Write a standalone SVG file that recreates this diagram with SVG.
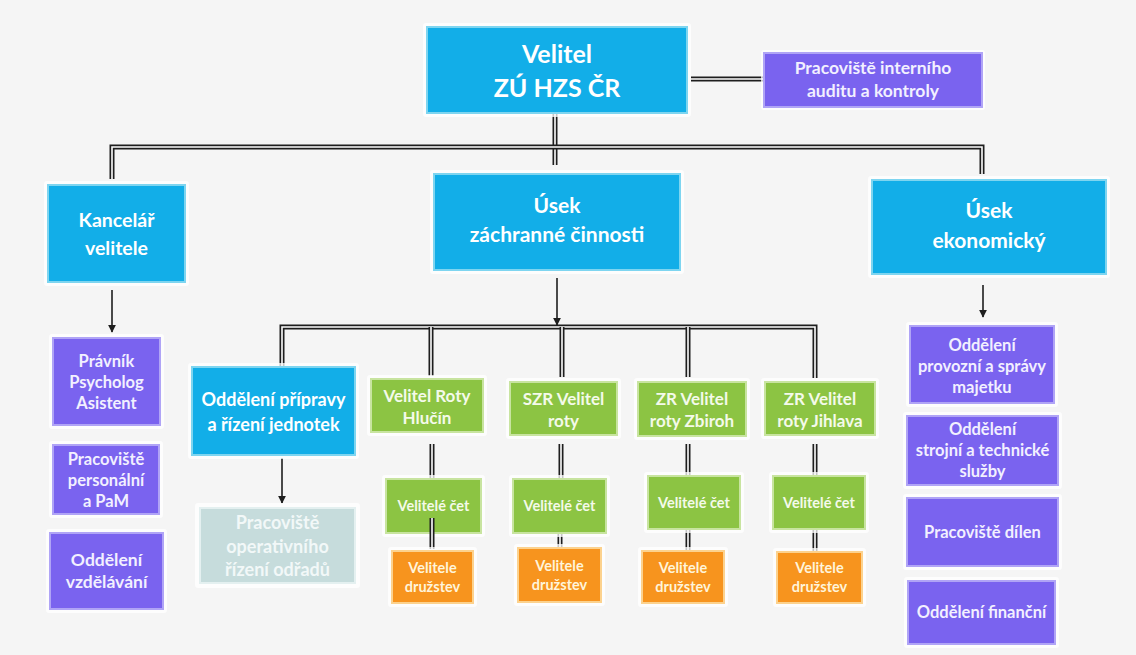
<svg xmlns="http://www.w3.org/2000/svg" width="1136" height="655" viewBox="0 0 1136 655">
<defs>
<style>
.bg{fill:#f5f5f5}
.halo{fill:#ffffff;opacity:0.75}
.blue{fill:#12aee8;stroke:#7ed5f0;stroke-width:2}
.purple{fill:#7a63ef;stroke:#b0a4f6;stroke-width:2}
.green{fill:#8cc443;stroke:#c8e4a0;stroke-width:2}
.orange{fill:#f7941e;stroke:#fcd28e;stroke-width:2}
.gray{fill:#c6dcdc;stroke:#e4f0f0;stroke-width:2}
text{font-family:Lato,"Open Sans","Liberation Sans",sans-serif;font-weight:700;text-anchor:middle}
.tw{fill:#ffffff}
.tp{fill:#f2f0ff;font-size:16.5px}
.tg{fill:#f4faea}
.to{fill:#fff4da;font-size:14.5px}
.tgr{fill:#f2f8f8;font-size:18px}
.dbo{fill:none;stroke:#1e1e1e;stroke-width:5;stroke-linejoin:miter}
.dbi{fill:none;stroke:#ffffff;stroke-width:1.6;stroke-linejoin:miter}
.arr{fill:none;stroke:#1e1e1e;stroke-width:1.6}
</style>
<marker id="ah" viewBox="0 0 10 10" refX="9" refY="5" markerWidth="5" markerHeight="5" orient="auto">
<path d="M0,0 L10,5 L0,10 z" fill="#1e1e1e"/>
</marker>
</defs>
<rect class="bg" x="0" y="0" width="1136" height="655"/>

<g id="connectors">
<path class="dbo" d="M691,79 H764"/>
<path class="dbi" d="M691,79 H764"/>
<path class="dbo" d="M555,114 V165"/>
<path class="dbi" d="M555,114 V165"/>
<path class="dbo" d="M112,179 V147 H982 V174"/>
<path class="dbi" d="M112,179 V147 H982 V174"/>
<path class="dbo" d="M282,367 V327 H815 V378"/>
<path class="dbi" d="M282,367 V327 H815 V378"/>
<path class="dbo" d="M431,327 V376 M562,327 V377 M688,327 V377"/>
<path class="dbi" d="M431,327 V376 M562,327 V377 M688,327 V377"/>
<path class="dbo" d="M432,444 V478 M561,444 V478 M688,444 V476 M815,444 V476"/>
<path class="dbi" d="M432,444 V478 M561,444 V478 M688,444 V476 M815,444 V476"/>
<path class="dbo" d="M560,533 V548 M688,529 V551 M815,529 V552"/>
<path class="dbi" d="M560,533 V548 M688,529 V551 M815,529 V552"/>
<path class="arr" d="M112,290 V332" marker-end="url(#ah)"/>
<path class="arr" d="M557,278 V325" marker-end="url(#ah)"/>
<path class="arr" d="M983,285 V317" marker-end="url(#ah)"/>
<path class="arr" d="M282,458 V503" marker-end="url(#ah)"/>
</g>

<g id="velitel">
<rect class="halo" x="423" y="23" width="268" height="94" rx="3"/>
<rect class="blue" x="427" y="27" width="260" height="86"/>
<text class="tw" x="557" y="63" font-size="25">Velitel</text>
<text class="tw" x="557" y="97" font-size="25">ZÚ HZS ČR</text>
</g>

<g id="audit">
<rect class="halo" x="761" y="50" width="224" height="60" rx="3"/>
<rect class="purple" x="764" y="53" width="218" height="54"/>
<text class="tp" x="873" y="74" style="font-size:17.5px">Pracoviště interního</text>
<text class="tp" x="873" y="97" style="font-size:17.5px">auditu a kontroly</text>
</g>

<g id="kancelar">
<rect class="halo" x="44" y="181" width="145" height="105" rx="3"/>
<rect class="blue" x="48" y="185" width="137" height="97"/>
<text class="tw" x="116.5" y="227" font-size="19.5">Kancelář</text>
<text class="tw" x="116.5" y="255" font-size="19.5">velitele</text>
</g>

<g id="usek-zachranne">
<rect class="halo" x="430" y="170" width="254" height="104" rx="3"/>
<rect class="blue" x="434" y="174" width="246" height="96"/>
<text class="tw" x="557" y="213" font-size="21">Úsek</text>
<text class="tw" x="557" y="242" font-size="21">záchranné činnosti</text>
</g>

<g id="usek-ekonomicky">
<rect class="halo" x="868" y="176" width="242" height="102" rx="3"/>
<rect class="blue" x="872" y="180" width="234" height="94"/>
<text class="tw" x="989" y="218" font-size="21">Úsek</text>
<text class="tw" x="989" y="248" font-size="21">ekonomický</text>
</g>

<g id="pravnik">
<rect class="halo" x="49" y="334" width="115" height="95" rx="3"/>
<rect class="purple" x="53" y="338" width="107" height="87"/>
<text class="tp" x="106.5" y="367">Právník</text>
<text class="tp" x="106.5" y="388">Psycholog</text>
<text class="tp" x="106.5" y="409">Asistent</text>
</g>

<g id="personalni">
<rect class="halo" x="49" y="441" width="114" height="77" rx="3"/>
<rect class="purple" x="53" y="445" width="106" height="69"/>
<text class="tp" x="106" y="465">Pracoviště</text>
<text class="tp" x="106" y="486">personální</text>
<text class="tp" x="106" y="507">a PaM</text>
</g>

<g id="vzdelavani">
<rect class="halo" x="46" y="529" width="121" height="84" rx="3"/>
<rect class="purple" x="50" y="533" width="113" height="76"/>
<text class="tp" x="106.5" y="566" style="font-size:17.5px">Oddělení</text>
<text class="tp" x="106.5" y="588" style="font-size:17.5px">vzdělávání</text>
</g>

<g id="pripravy">
<rect class="halo" x="188" y="363" width="171" height="96" rx="3"/>
<rect class="blue" x="192" y="367" width="163" height="88"/>
<text class="tw" x="273.5" y="406" font-size="18">Oddělení přípravy</text>
<text class="tw" x="273.5" y="431" font-size="18">a řízení jednotek</text>
</g>

<g id="operativni">
<rect class="halo" x="195" y="503" width="165" height="85" rx="3"/>
<rect class="gray" x="200" y="508" width="155" height="75"/>
<text class="tgr" x="277.5" y="529">Pracoviště</text>
<text class="tgr" x="277.5" y="553">operativního</text>
<text class="tgr" x="277.5" y="576">řízení odřadů</text>
</g>

<g id="rota-hlucin">
<rect class="halo" x="367" y="375" width="120" height="61" rx="3"/>
<rect class="green" x="371" y="379" width="112" height="53"/>
<text class="tg" x="427" y="402" font-size="17">Velitel Roty</text>
<text class="tg" x="427" y="424" font-size="17">Hlučín</text>
</g>

<g id="rota-szr">
<rect class="halo" x="506" y="378" width="115" height="61" rx="3"/>
<rect class="green" x="510" y="382" width="107" height="53"/>
<text class="tg" x="563.5" y="405" font-size="17">SZR Velitel</text>
<text class="tg" x="563.5" y="427" font-size="17">roty</text>
</g>

<g id="rota-zbiroh">
<rect class="halo" x="634" y="378" width="116" height="62" rx="3"/>
<rect class="green" x="638" y="382" width="108" height="54"/>
<text class="tg" x="692" y="405" font-size="17">ZR Velitel</text>
<text class="tg" x="692" y="427" font-size="17">roty Zbiroh</text>
</g>

<g id="rota-jihlava">
<rect class="halo" x="761" y="378" width="118" height="61" rx="3"/>
<rect class="green" x="765" y="382" width="110" height="53"/>
<text class="tg" x="820" y="405" font-size="17">ZR Velitel</text>
<text class="tg" x="820" y="427" font-size="17">roty Jihlava</text>
</g>

<g id="cet-1">
<rect class="halo" x="382" y="475" width="103" height="62" rx="3"/>
<rect class="green" x="386" y="479" width="95" height="54"/>
<text class="tg" x="433.5" y="511" font-size="14.5">Velitelé čet</text>
</g>
<g id="cet-2">
<rect class="halo" x="509" y="475" width="101" height="62" rx="3"/>
<rect class="green" x="513" y="479" width="93" height="54"/>
<text class="tg" x="559.5" y="511" font-size="14.5">Velitelé čet</text>
</g>
<g id="cet-3">
<rect class="halo" x="644" y="472" width="100" height="61" rx="3"/>
<rect class="green" x="648" y="476" width="92" height="53"/>
<text class="tg" x="694" y="508" font-size="14.5">Velitelé čet</text>
</g>
<g id="cet-4">
<rect class="halo" x="769" y="472" width="100" height="61" rx="3"/>
<rect class="green" x="773" y="476" width="92" height="53"/>
<text class="tg" x="819" y="508" font-size="14.5">Velitelé čet</text>
</g>

<g id="connector-overlay">
<path class="dbo" d="M432,518 V549"/>
<path class="dbi" d="M432,518 V549"/>
</g>

<g id="druzstev-1">
<rect class="halo" x="388" y="547" width="89" height="60" rx="3"/>
<rect class="orange" x="392" y="551" width="81" height="52"/>
<text class="to" x="432.5" y="573">Velitele</text>
<text class="to" x="432.5" y="592">družstev</text>
</g>
<g id="druzstev-2">
<rect class="halo" x="514" y="544" width="91" height="62" rx="3"/>
<rect class="orange" x="518" y="548" width="83" height="54"/>
<text class="to" x="559.5" y="571">Velitele</text>
<text class="to" x="559.5" y="590">družstev</text>
</g>
<g id="druzstev-3">
<rect class="halo" x="638" y="547" width="90" height="60" rx="3"/>
<rect class="orange" x="642" y="551" width="82" height="52"/>
<text class="to" x="683" y="573">Velitele</text>
<text class="to" x="683" y="592">družstev</text>
</g>
<g id="druzstev-4">
<rect class="halo" x="773" y="548" width="93" height="59" rx="3"/>
<rect class="orange" x="777" y="552" width="85" height="51"/>
<text class="to" x="819.5" y="573">Velitele</text>
<text class="to" x="819.5" y="592">družstev</text>
</g>

<g id="provozni">
<rect class="halo" x="906" y="322" width="152" height="85" rx="3"/>
<rect class="purple" x="910" y="326" width="144" height="77"/>
<text class="tp" x="982" y="351">Oddělení</text>
<text class="tp" x="982" y="372">provozní a správy</text>
<text class="tp" x="982" y="393">majetku</text>
</g>

<g id="strojni">
<rect class="halo" x="903" y="412" width="159" height="77" rx="3"/>
<rect class="purple" x="907" y="416" width="151" height="69"/>
<text class="tp" x="982.5" y="435">Oddělení</text>
<text class="tp" x="982.5" y="456">strojní a technické</text>
<text class="tp" x="982.5" y="477">služby</text>
</g>

<g id="dilen">
<rect class="halo" x="903" y="494" width="159" height="76" rx="3"/>
<rect class="purple" x="907" y="498" width="151" height="68"/>
<text class="tp" x="982.5" y="538">Pracoviště dílen</text>
</g>

<g id="financni">
<rect class="halo" x="904" y="577" width="155" height="71" rx="3"/>
<rect class="purple" x="908" y="581" width="147" height="63"/>
<text class="tp" x="981.5" y="618">Oddělení finanční</text>
</g>
</svg>
